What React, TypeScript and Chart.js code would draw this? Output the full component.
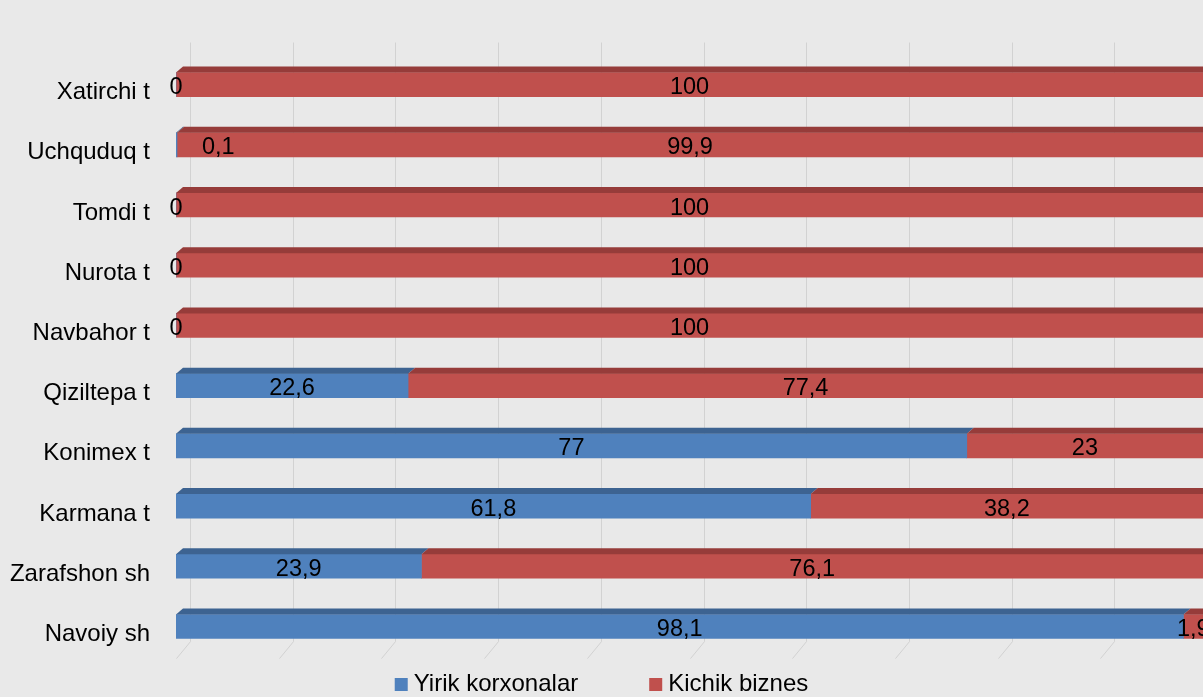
import React, { useEffect, useRef } from "react";
import { Chart, registerables } from "chart.js";

Chart.register(...registerables);

const categories: string[] = [
  "Xatirchi t",
  "Uchquduq t",
  "Tomdi t",
  "Nurota t",
  "Navbahor t",
  "Qiziltepa t",
  "Konimex t",
  "Karmana t",
  "Zarafshon sh",
  "Navoiy sh",
];
const seriesNames: string[] = ["Yirik korxonalar", "Kichik biznes"];
const yirikValues: number[] = [0, 0.1, 0, 0, 0, 22.6, 77, 61.8, 23.9, 98.1];
const kichikValues: number[] = [100, 99.9, 100, 100, 100, 77.4, 23, 38.2, 76.1, 1.9];
const gridTicks: number[] = [0, 10, 20, 30, 40, 50, 60, 70, 80, 90, 100];

const FONT = "'Liberation Sans', Arial, sans-serif";
const BLUE = "#4F81BD";
const BLUE_TOP = "#3D6391";
const RED = "#C0504D";
const RED_TOP = "#963C3A";
const BG = "#e9e9e9";

const fmt = (v: number) => String(v).replace(".", ",");

const bgPlugin = {
  id: "bgFill",
  beforeDraw(chart: any) {
    const ctx = chart.ctx;
    ctx.save();
    ctx.fillStyle = BG;
    ctx.fillRect(0, 0, chart.width, chart.height);
    ctx.restore();
  },
};

const gridPlugin = {
  id: "grid3d",
  beforeDatasetsDraw(chart: any) {
    const ctx = chart.ctx;
    const xs = chart.scales.x;
    const area = chart.chartArea;
    const dx = 14;
    const top = area.top - 12;
    const floorBack = area.bottom - 15;
    const floorFront = area.bottom + 2;
    ctx.save();
    ctx.strokeStyle = "#d2d2d2";
    ctx.lineWidth = 1;
    gridTicks.forEach((t) => {
      const px = Math.round(xs.getPixelForValue(t)) + 0.5;
      ctx.beginPath();
      ctx.moveTo(px + dx, top);
      ctx.lineTo(px + dx, floorBack);
      ctx.lineTo(px, floorFront);
      ctx.stroke();
    });
    ctx.restore();
  },
};

const faceAndLabelPlugin = {
  id: "faceLabels",
  afterDatasetsDraw(chart: any) {
    const ctx = chart.ctx;
    const tops = [BLUE_TOP, RED_TOP];
    ctx.save();
    chart.data.datasets.forEach((ds: any, di: number) => {
      const meta = chart.getDatasetMeta(di);
      meta.data.forEach((el: any, i: number) => {
        const v = ds.data[i];
        if (!v) return;
        const p = el.getProps(["x", "y", "base", "height"], true);
        const x0 = Math.min(p.base, p.x);
        const x1 = Math.max(p.base, p.x);
        const t = p.y - p.height / 2;
        ctx.fillStyle = tops[di];
        ctx.beginPath();
        ctx.moveTo(x0, t);
        ctx.lineTo(x0 + 7, t - 6);
        ctx.lineTo(x1 + 7, t - 6);
        ctx.lineTo(x1, t);
        ctx.closePath();
        ctx.fill();
      });
    });
    ctx.font = `23.5px ${FONT}`;
    ctx.fillStyle = "#000";
    ctx.textAlign = "center";
    ctx.textBaseline = "middle";
    chart.data.datasets.forEach((ds: any, di: number) => {
      const meta = chart.getDatasetMeta(di);
      meta.data.forEach((el: any, i: number) => {
        const v = ds.data[i];
        const p = el.getProps(["x", "y", "base"], true);
        const w = Math.abs(p.x - p.base);
        const txt = fmt(v);
        const tw = ctx.measureText(txt).width;
        let cx = (p.x + p.base) / 2;
        if (v > 0 && w < 4) cx = Math.min(p.x, p.base) + 26 + tw / 2;
        ctx.fillText(txt, cx, p.y + 3);
      });
    });
    ctx.restore();
  },
};

const legendPlugin = {
  id: "customLegend",
  afterDraw(chart: any) {
    const ctx = chart.ctx;
    const colors = [BLUE, RED];
    ctx.save();
    ctx.font = `24px ${FONT}`;
    ctx.textBaseline = "middle";
    ctx.textAlign = "left";
    const box = 13;
    const gap = 6;
    const spacing = 71;
    const widths = seriesNames.map((s) => ctx.measureText(s).width);
    const total =
      widths.reduce((a, b) => a + b, 0) + seriesNames.length * (box + gap) + spacing * (seriesNames.length - 1);
    let x = (chart.width - total) / 2;
    const y = chart.height - 13;
    seriesNames.forEach((s, i) => {
      ctx.fillStyle = colors[i];
      ctx.fillRect(x, y - 6, box, box);
      x += box + gap;
      ctx.fillStyle = "#000";
      ctx.fillText(s, x, y);
      x += widths[i] + spacing;
    });
    ctx.restore();
  },
};

export default function App() {
  const ref = useRef<HTMLCanvasElement | null>(null);
  useEffect(() => {
    if (!ref.current) return;
    const chart = new Chart(ref.current, {
      type: "bar",
      data: {
        labels: categories,
        datasets: [
          {
            label: seriesNames[0],
            data: yirikValues,
            backgroundColor: BLUE,
            borderWidth: 0,
            barThickness: 24,
          },
          {
            label: seriesNames[1],
            data: kichikValues,
            backgroundColor: RED,
            borderWidth: 0,
            barThickness: 24,
          },
        ],
      },
      options: {
        indexAxis: "y",
        responsive: false,
        animation: false,
        layout: { padding: { top: 54.5, bottom: 39, left: 0, right: 0 } },
        plugins: {
          legend: { display: false },
          tooltip: { enabled: false },
        },
        scales: {
          x: {
            stacked: true,
            min: 0,
            max: 100,
            display: false,
          },
          y: {
            stacked: true,
            grid: { display: false, drawTicks: false },
            border: { display: false },
            ticks: {
              color: "#000",
              font: { family: FONT, size: 24 },
              padding: 26,
              labelOffset: 8,
            },
            afterFit(scale: any) {
              scale.width = 176;
            },
          },
        },
      },
      plugins: [bgPlugin, gridPlugin, faceAndLabelPlugin, legendPlugin],
    });
    return () => chart.destroy();
  }, []);
  return (
    <div style={{ position: "fixed", left: 0, top: 0, width: 1203, height: 697 }}>
      <canvas ref={ref} width={1203} height={697} style={{ display: "block" }} />
    </div>
  );
}
